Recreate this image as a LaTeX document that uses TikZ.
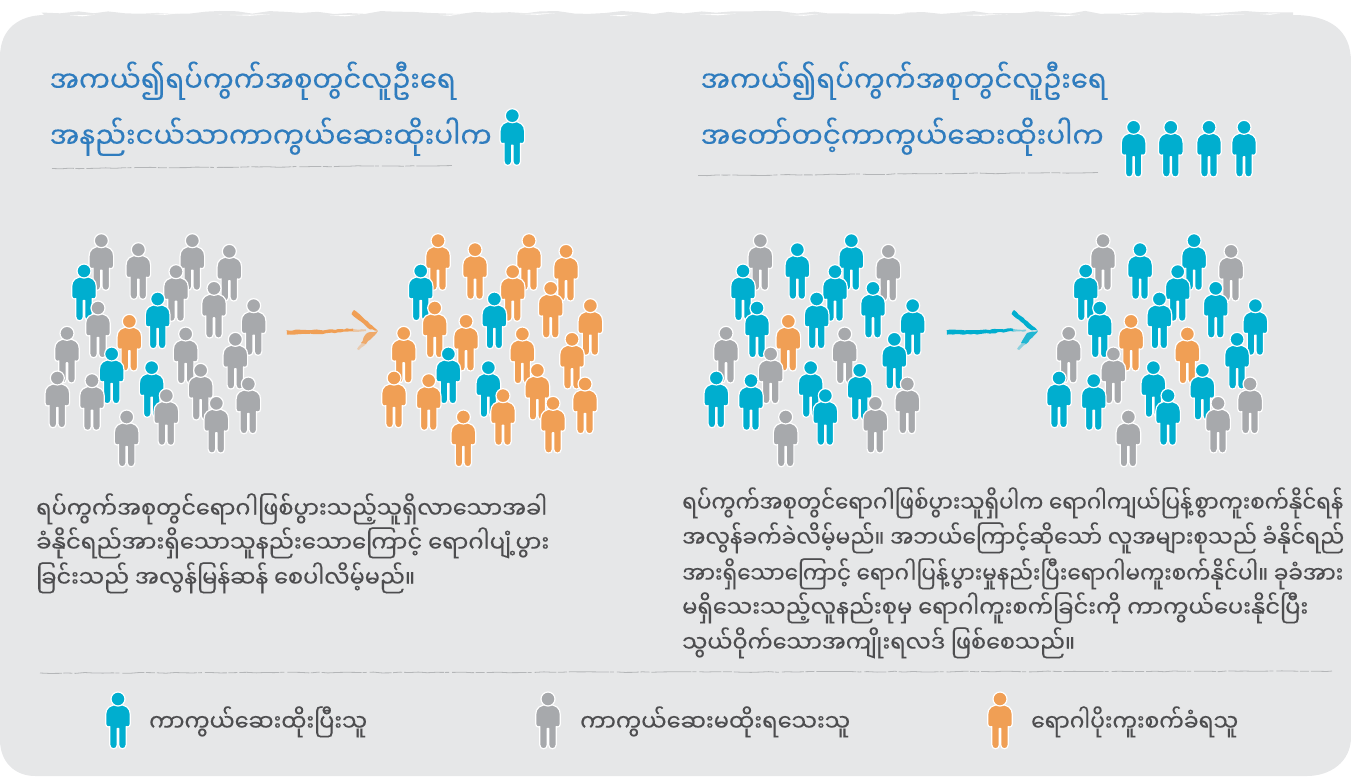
\documentclass[tikz,border=0pt]{standalone}
\usepackage{graphicx}
\usepackage{fontspec}
\usetikzlibrary{decorations.pathmorphing}
\newfontfamily\myab[Script=Myanmar,FakeBold=0.3]{Noto Sans Myanmar UI}
\definecolor{bgc}{HTML}{E6E7E8}
\definecolor{pb}{HTML}{00AECF}
\definecolor{pg}{HTML}{A7A9AC}
\definecolor{po}{HTML}{F09F55}
\definecolor{ttl}{HTML}{2F7CBE}
\definecolor{txt}{HTML}{4D4D4F}
\newcommand\fitw[2]{\resizebox{#1pt}{\height}{#2}}
\tikzset{
  person/.pic={
    \path[pic actions,draw=white,line width=1.2,line join=round]
      (0,5.6) .. controls (8,5.6) and (12.3,9) .. (12.3,15.5)
      -- (12.3,25) .. controls (12.3,27) and (11,28) .. (9.4,28) -- (8.2,27.6)
      -- (8.2,46) .. controls (8.2,51) and (.7,51) .. (.7,46) -- (.7,29.5) -- (0,29.5)
      -- (-.7,29.5) -- (-.7,46) .. controls (-.7,51) and (-8.2,51) .. (-8.2,46)
      -- (-8.2,27.6) -- (-9.4,28) .. controls (-11,28) and (-12.3,27) .. (-12.3,25)
      -- (-12.3,15.5) .. controls (-12.3,9) and (-8,5.6) .. (0,5.6) -- cycle;
    \path[pic actions,draw=white,line width=1.2] (0,0) circle[radius=7];
  },
  ttlt/.style={anchor=base west,inner sep=0,text=ttl,font=\myab\fontsize{29}{34}\selectfont},
  bodyt/.style={anchor=base west,inner sep=0,text=txt,font=\myab\fontsize{23.5}{28}\selectfont},
  legt/.style={anchor=base west,inner sep=0,text=txt,font=\myab\fontsize{23.5}{28}\selectfont},
  rule/.style={draw=pg!85!white,line width=.8,dash pattern=on 22pt off 1.5pt on 9pt off 2pt on 40pt off 1pt on 4pt off 3pt,decorate,decoration={random steps,segment length=9,amplitude=.45}},
  sliver/.style={fill=white},
}
\def\plist{214/47/pg/po/pg/pg,325/74/pg/po/pb/pb,487/47/pg/po/pb/pb,598/79/pg/po/pg/pg,162/138/pb/pb/pb/pb,438/140/pg/po/pb/pb,552/190/pg/po/pb/pb,383/222/pb/pb/pb/pb,204/249/pg/po/pb/pb,671/242/pg/po/pb/pb,298/289/po/po/po/po,111/325/pg/po/pg/pg,467/327/pg/po/pg/po,616/343/pg/po/pb/pb,245/387/pb/pb/pg/pg,365/428/pb/pb/pb/pb,512/436/pg/po/pb/pb,82/459/pg/po/pb/pb,186/467/pg/po/pb/pb,655/477/pg/po/pg/pg,409/512/pg/po/pb/pb,559/535/pg/po/pg/pg,290/576/pg/po/pg/pg}
\newcommand\crowd[2]{%
  \foreach \zx/\zy/\ca/\cb/\cc/\cd in \plist {%
    \edef\col{\ifcase#2 \ca\or\cb\or\cc\or\cd\fi}%
    \pic[fill=\col] at ({#1+\zx/3+30},{\zy/3+225}) {person};
  }}
\newcommand\brush[2]{%
  \begin{scope}[shift={(#1,0)},decoration={random steps,segment length=3,amplitude=.6}]
    \fill[#2,decorate] (286.7,330.2)--(320,330)--(353,328.6)--(353,331.4)--(320,334)--(287,334.6)--cycle;
    \fill[#2,opacity=.45,decorate] (353,329)--(366,329.5)--(366,331)--(353,331.8)--cycle;
    \fill[#2,decorate] (354,310)--(377.8,330.6)--(370,329.5)--(351.5,314)--cycle;
    \fill[#2,opacity=.85,decorate] (377.8,331)--(367,333)--(361,343)--(366,344)--cycle;
    \fill[#2,opacity=.4,decorate] (362,342)--(366,344)--(359,350)--(357,349)--cycle;
  \end{scope}}
\begin{document}
\begin{tikzpicture}[x=1pt,y=-1pt]
\useasboundingbox (0,0) rectangle (1351,776);
\pgfmathsetseed{11}
% panel
\fill[bgc] (0,57) .. controls (0,28) and (20,15) .. (45,15) -- (1293,15)
  .. controls (1330,15) and (1351,30) .. (1351,62) -- (1351,737)
  .. controls (1351,762) and (1330,776) .. (1307,776) -- (35,776)
  .. controls (15,776) and (0,762) .. (0,740) -- cycle;
\fill[bgc,decorate,decoration={random steps,segment length=16,amplitude=1.6}]
  (45,16) -- (1293,16) -- (1293,12.5) -- (45,12.5) -- cycle;
\foreach \sx/\sy/\sw in {70/15.5/25,150/14/30,230/15/40,330/15.5/30,440/15/20,520/14/35,610/15.5/22,700/14.5/36,790/15/28,880/13.5/30,960/15/42,1050/15.5/30,1120/14.5/24,1200/15/34,1260/14/20}
  \fill[sliver] (\sx,\sy) -- ++(\sw,-.8) -- ++(-\sw/2,1.6) -- cycle;
% titles
\node[ttlt] (t1) at (49.5,92) {\fitw{406}{အကယ်၍ရပ်ကွက်အစုတွင်လူဦးရေ}};
\node[ttlt] (t2) at (49.5,148) {\fitw{442}{အနည်းငယ်သာကာကွယ်ဆေးထိုးပါက}};
\node[ttlt] (t3) at (700.5,92) {\fitw{406}{အကယ်၍ရပ်ကွက်အစုတွင်လူဦးရေ}};
\node[ttlt] (t4) at (700.5,148) {\fitw{403}{အတော်တင့်ကာကွယ်ဆေးထိုးပါက}};
\pic[fill=pb] at (512.3,115.7) {person};
\foreach \hx in {1133.6,1170.8,1209,1244} \pic[fill=pb] at (\hx,127.3) {person};
% rules
\draw[rule] (52,168.5) -- (452,165.5);
\draw[rule] (698,175.5) -- (1098,172.5);
\draw[rule] (40,673) -- (1332,671);
% crowds
\crowd{0}{0}
\crowd{336.7}{1}
\crowd{659}{2}
\crowd{1001.7}{3}
\brush{0}{po}
\brush{660}{pb}
% body
\node[bodyt] (b1) at (36,518) {\fitw{511}{ရပ်ကွက်အစုတွင်ရောဂါဖြစ်ပွားသည့်သူရှိလာသောအခါ}};
\node[bodyt] (b2) at (36,552) {\fitw{513}{ခံနိုင်ရည်အားရှိသောသူနည်းသောကြောင့် ရောဂါပျံ့ပွား}};
\node[bodyt] (b3) at (36,587) {\fitw{379}{ခြင်းသည် အလွန်မြန်ဆန် စေပါလိမ့်မည်။}};
\node[bodyt] (c1) at (682,512) {\fitw{661}{ရပ်ကွက်အစုတွင်ရောဂါဖြစ်ပွားသူရှိပါက ရောဂါကျယ်ပြန့်စွာကူးစက်နိုင်ရန်}};
\node[bodyt] (c2) at (682,547) {\fitw{662}{အလွန်ခက်ခဲလိမ့်မည်။ အဘယ်ကြောင့်ဆိုသော် လူအများစုသည် ခံနိုင်ရည်}};
\node[bodyt] (c3) at (682,583) {\fitw{661}{အားရှိသောကြောင့် ရောဂါပြန့်ပွားမှုနည်းပြီးရောဂါမကူးစက်နိုင်ပါ။ ခုခံအား}};
\node[bodyt] (c4) at (682,617) {\fitw{626}{မရှိသေးသည့်လူနည်းစုမှ ရောဂါကူးစက်ခြင်းကို ကာကွယ်ပေးနိုင်ပြီး}};
\node[bodyt] (c5) at (682,652) {\fitw{393}{သွယ်ဝိုက်သောအကျိုးရလဒ် ဖြစ်စေသည်။}};
% legend
\pic[fill=pb] at (118,699) {person};
\pic[fill=pg] at (548,699) {person};
\pic[fill=po] at (1000,699) {person};
\node[legt] (l1) at (149,731) {\fitw{218}{ကာကွယ်ဆေးထိုးပြီးသူ}};
\node[legt] (l2) at (580,731) {\fitw{270}{ကာကွယ်ဆေးမထိုးရသေးသူ}};
\node[legt] (l3) at (1031,731) {\fitw{207}{ရောဂါပိုးကူးစက်ခံရသူ}};
\end{tikzpicture}
\end{document}
